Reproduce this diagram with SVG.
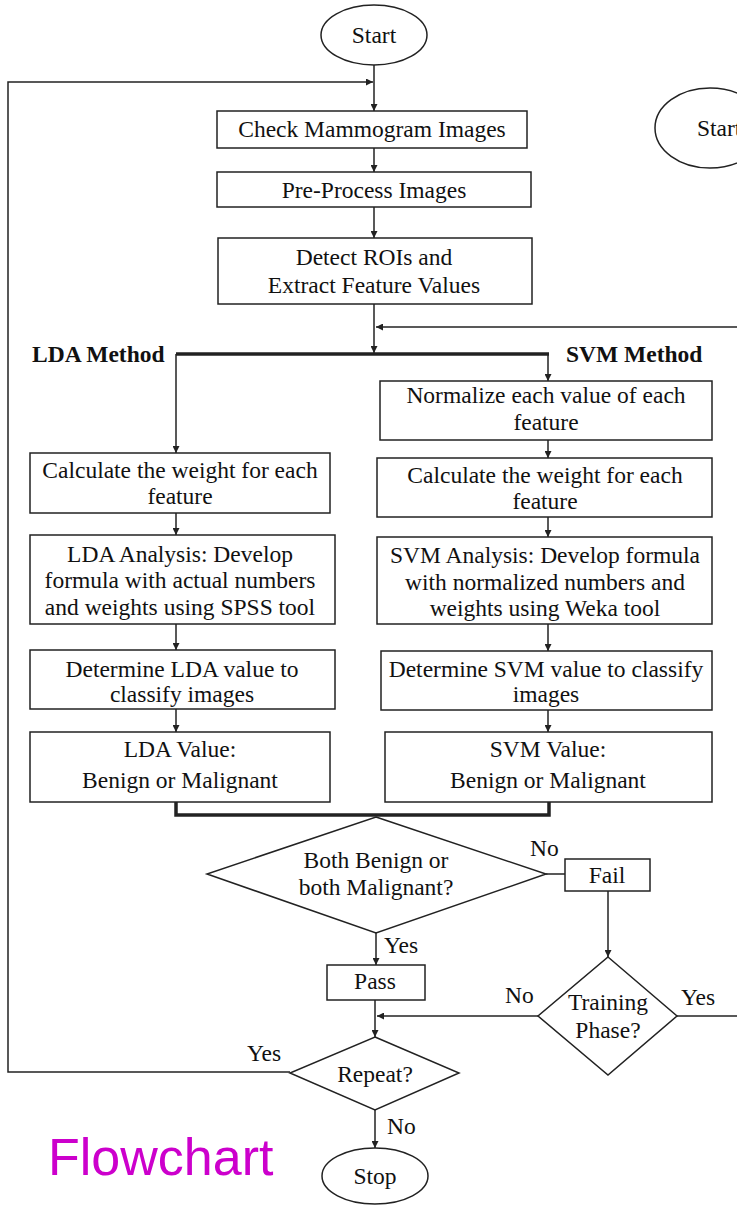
<svg xmlns="http://www.w3.org/2000/svg" width="737" height="1205" viewBox="0 0 737 1205">
  <style>
    .box { fill: #ffffff; stroke: #222222; stroke-width: 1.5; }
    .t { font-family: "Liberation Serif", "Times New Roman", serif; font-size: 23.5px; fill: #111111; text-anchor: middle; }
    .lbl { font-family: "Liberation Serif", "Times New Roman", serif; font-size: 23.5px; fill: #111111; }
    .head { font-family: "Liberation Serif", "Times New Roman", serif; font-size: 23.5px; font-weight: bold; fill: #111111; }
    .ln { fill: none; stroke: #222222; stroke-width: 1.5; }
    .arr { fill: none; stroke: #222222; stroke-width: 1.5; marker-end: url(#ah); }
    .thick { fill: none; stroke: #222222; stroke-width: 3.5; }
  </style>
  <defs>
    <marker id="ah" viewBox="0 0 10 10" refX="10" refY="5" markerWidth="7" markerHeight="7" orient="auto" markerUnits="userSpaceOnUse">
      <path d="M0,0 L10,5 L0,10 z" fill="#222222"/>
    </marker>
  </defs>
  <rect width="737" height="1205" fill="#ffffff"/>

  <!-- connectors -->
  <g id="connectors">
    <line class="arr" x1="374" y1="65" x2="374" y2="111"/>
    <polyline class="arr" points="290,1072 8,1072 8,82 373,82"/>
    <line class="arr" x1="374" y1="148" x2="374" y2="172"/>
    <line class="arr" x1="374" y1="207" x2="374" y2="238"/>
    <line class="arr" x1="374" y1="304" x2="374" y2="353"/>
    <line class="arr" x1="737" y1="327" x2="376" y2="327"/>
    <line class="thick" x1="176" y1="354" x2="549" y2="354"/>
    <line class="arr" x1="176" y1="354" x2="176" y2="453"/>
    <line class="arr" x1="548" y1="354" x2="548" y2="381"/>
    <line class="arr" x1="548" y1="440" x2="548" y2="458"/>
    <line class="arr" x1="176" y1="513" x2="176" y2="535"/>
    <line class="arr" x1="548" y1="517" x2="548" y2="537"/>
    <line class="arr" x1="176" y1="624" x2="176" y2="650"/>
    <line class="arr" x1="548" y1="624" x2="548" y2="651"/>
    <line class="arr" x1="176" y1="709" x2="176" y2="732"/>
    <line class="arr" x1="548" y1="710" x2="548" y2="732"/>
    <polyline class="thick" points="176,802 176,815 549,815 549,802"/>
    <line class="ln" x1="546" y1="874" x2="565" y2="874"/>
    <line class="arr" x1="608" y1="891" x2="608" y2="957"/>
    <line class="arr" x1="376" y1="933" x2="376" y2="965"/>
    <line class="arr" x1="375" y1="1000" x2="375" y2="1037"/>
    <line class="arr" x1="538" y1="1016" x2="377" y2="1016"/>
    <line class="ln" x1="677" y1="1016" x2="737" y2="1016"/>
    <line class="arr" x1="375" y1="1110" x2="375" y2="1148"/>
    <text class="lbl" x="384" y="953">Yes</text>
    <text class="lbl" x="530" y="856">No</text>
    <text class="lbl" x="505" y="1003">No</text>
    <text class="lbl" x="681" y="1005">Yes</text>
    <text class="lbl" x="247" y="1061">Yes</text>
    <text class="lbl" x="387" y="1134">No</text>
  </g>

  <g id="start">
    <ellipse class="box" cx="374" cy="35" rx="53" ry="30"/>
    <text class="t" x="374" y="43">Start</text>
  </g>
  <g id="start2">
    <ellipse class="box" cx="710" cy="128" rx="55" ry="40"/>
    <text class="lbl" x="697" y="136">Start</text>
  </g>
  <g id="check">
    <rect class="box" x="217" y="111" width="310" height="37"/>
    <text class="t" x="372" y="137">Check Mammogram Images</text>
  </g>
  <g id="preprocess">
    <rect class="box" x="217" y="172" width="314" height="35"/>
    <text class="t" x="374" y="198">Pre-Process Images</text>
  </g>
  <g id="detect">
    <rect class="box" x="218" y="238" width="314" height="66"/>
    <text class="t" x="374" y="265">Detect ROIs and</text>
    <text class="t" x="374" y="293">Extract Feature Values</text>
  </g>
  <g id="lda-head">
    <text class="head" x="32" y="362">LDA Method</text>
  </g>
  <g id="svm-head">
    <text class="head" x="566" y="362">SVM Method</text>
  </g>
  <g id="normalize">
    <rect class="box" x="380" y="381" width="332" height="59"/>
    <text class="t" x="546" y="403">Normalize each value of each</text>
    <text class="t" x="546" y="430">feature</text>
  </g>
  <g id="lda-weight">
    <rect class="box" x="30" y="453" width="300" height="60"/>
    <text class="t" x="180" y="478">Calculate the weight for each</text>
    <text class="t" x="180" y="504">feature</text>
  </g>
  <g id="svm-weight">
    <rect class="box" x="377" y="458" width="335" height="59"/>
    <text class="t" x="545" y="483">Calculate the weight for each</text>
    <text class="t" x="545" y="509">feature</text>
  </g>
  <g id="lda-analysis">
    <rect class="box" x="30" y="535" width="305" height="89"/>
    <text class="t" x="180" y="562">LDA Analysis: Develop</text>
    <text class="t" x="180" y="588">formula with actual numbers</text>
    <text class="t" x="180" y="615">and weights using SPSS tool</text>
  </g>
  <g id="svm-analysis">
    <rect class="box" x="377" y="537" width="335" height="87"/>
    <text class="t" x="545" y="563">SVM Analysis: Develop formula</text>
    <text class="t" x="545" y="590">with normalized numbers and</text>
    <text class="t" x="545" y="616">weights using Weka tool</text>
  </g>
  <g id="lda-determine">
    <rect class="box" x="30" y="650" width="305" height="59"/>
    <text class="t" x="182" y="677">Determine LDA value to</text>
    <text class="t" x="182" y="702">classify images</text>
  </g>
  <g id="svm-determine">
    <rect class="box" x="381" y="651" width="331" height="59"/>
    <text class="t" x="546" y="677">Determine SVM value to classify</text>
    <text class="t" x="546" y="702">images</text>
  </g>
  <g id="lda-value">
    <rect class="box" x="30" y="732" width="300" height="70"/>
    <text class="t" x="180" y="757">LDA Value:</text>
    <text class="t" x="180" y="788">Benign or Malignant</text>
  </g>
  <g id="svm-value">
    <rect class="box" x="385" y="732" width="327" height="70"/>
    <text class="t" x="548" y="757">SVM Value:</text>
    <text class="t" x="548" y="788">Benign or Malignant</text>
  </g>
  <g id="agree">
    <polygon class="box" points="376,817 546,874 376,933 207,874"/>
    <text class="t" x="376" y="868">Both Benign or</text>
    <text class="t" x="376" y="895">both Malignant?</text>
  </g>
  <g id="fail">
    <rect class="box" x="565" y="859" width="85" height="32"/>
    <text class="t" x="607" y="883">Fail</text>
  </g>
  <g id="pass">
    <rect class="box" x="327" y="965" width="98" height="35"/>
    <text class="t" x="375" y="989">Pass</text>
  </g>
  <g id="training">
    <polygon class="box" points="608,957 677,1016 608,1075 538,1016"/>
    <text class="t" x="608" y="1010">Training</text>
    <text class="t" x="608" y="1038">Phase?</text>
  </g>
  <g id="repeat">
    <polygon class="box" points="375,1037 459,1073 375,1110 290,1073"/>
    <text class="t" x="375" y="1082">Repeat?</text>
  </g>
  <g id="stop">
    <ellipse class="box" cx="375" cy="1176" rx="53" ry="28"/>
    <text class="t" x="375" y="1184">Stop</text>
  </g>
  <g id="title">
    <text x="48" y="1175" font-family="'Liberation Sans', Arial, sans-serif" font-size="52" fill="#cc00cc">Flowchart</text>
  </g>
</svg>
